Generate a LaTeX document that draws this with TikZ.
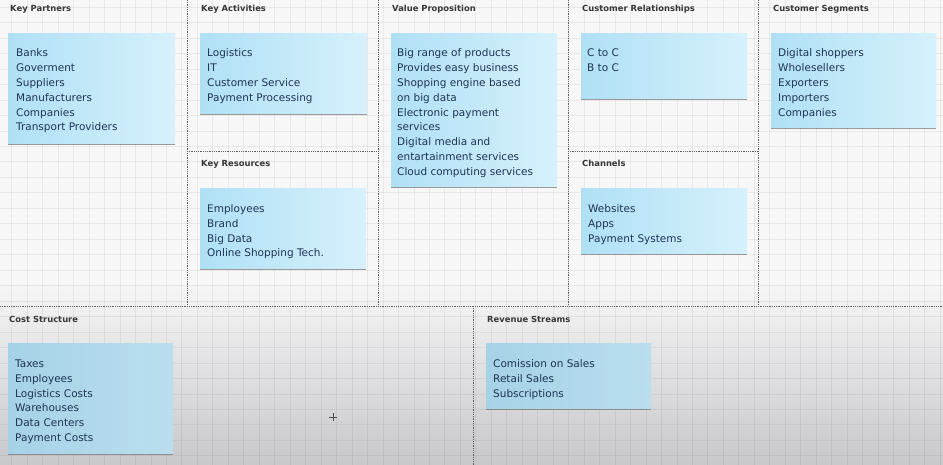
\documentclass[tikz,border=0pt]{standalone}
\usepackage{fontspec}
\setmainfont{DejaVu Sans}
\usetikzlibrary{shadows}
\definecolor{bgtop}{RGB}{247,247,247}
\definecolor{bgbot}{RGB}{200,200,204}
\definecolor{boxL}{RGB}{176,224,245}
\definecolor{boxR}{RGB}{214,241,252}
\definecolor{boxLd}{RGB}{166,210,231}
\definecolor{boxRd}{RGB}{186,222,238}
\definecolor{txtcol}{RGB}{30,52,84}
\definecolor{ttlcol}{RGB}{55,55,58}
\definecolor{divcol}{RGB}{95,95,100}
\tikzset{
  canvasbox/.style={draw=none, inner sep=0pt, anchor=north west, left color=boxL, right color=boxR,
     drop shadow={shadow xshift=0pt, shadow yshift=-2pt, fill=black!55, opacity=0.7}},
  darkbox/.style={canvasbox, left color=boxLd, right color=boxRd},
  itemtext/.style={inner sep=0pt, anchor=base west, align=left, text=txtcol,
     font=\fontsize{10.5}{14.8}\selectfont},
  paneltitle/.style={inner sep=0pt, anchor=base west, text=ttlcol,
     font=\bfseries\fontsize{8.4}{10}\selectfont},
  divider/.style={draw=divcol, line width=0.9pt, dash pattern=on 0.9pt off 0.9pt},
  gridline/.style={draw=black, opacity=0.055, line width=0.8pt}
}
\begin{document}
\begin{tikzpicture}[x=1pt,y=-1pt]
\useasboundingbox (0,0) rectangle (943,465);
% background
\fill[bgtop] (0,0) rectangle (943,280);
\shade[top color=bgtop, bottom color=bgbot] (0,280) rectangle (943,465);
% grid
\foreach \i in {0,...,60} {
  \draw[gridline] ({11.7+15.47*\i},0) -- ({11.7+15.47*\i},465);
}
\foreach \j in {0,...,30} {
  \draw[gridline] (0,{7.2+15.47*\j}) -- (943,{7.2+15.47*\j});
}
% dividers
\draw[divider] (187,0) -- (187,306);
\draw[divider] (378,0) -- (378,306);
\draw[divider] (568,0) -- (568,306);
\draw[divider] (758,0) -- (758,306);
\draw[divider] (187,151) -- (378,151);
\draw[divider] (568,151) -- (758,151);
\draw[divider] (0,306) -- (943,306);
\draw[divider] (473,306) -- (473,465);

% titles
\node[paneltitle] (tkp) at (10,12) {Key Partners};
\node[paneltitle] (tka) at (201,12) {Key Activities};
\node[paneltitle] (tvp) at (392,12) {Value Proposition};
\node[paneltitle] (tcr) at (582,12) {Customer Relationships};
\node[paneltitle] (tcs) at (773,12) {Customer Segments};
\node[paneltitle] (tkr) at (201,167) {Key Resources};
\node[paneltitle] (tch) at (582,167) {Channels};
\node[paneltitle] (tcost) at (9,322.5) {Cost Structure};
\node[paneltitle] (trev) at (487,322.5) {Revenue Streams};

% boxes
\node[canvasbox, minimum width=167, minimum height=110] (bkp) at (8,33) {};
\node[canvasbox, minimum width=167, minimum height=80] (bka) at (200,33) {};
\node[canvasbox, minimum width=166, minimum height=153] (bvp) at (391,33) {};
\node[canvasbox, minimum width=166, minimum height=65] (bcr) at (581,33) {};
\node[canvasbox, minimum width=165, minimum height=94] (bcs) at (771,33) {};
\node[canvasbox, minimum width=166, minimum height=80] (bkr) at (200,188) {};
\node[canvasbox, minimum width=166, minimum height=65] (bch) at (581,188) {};
\node[darkbox, minimum width=165, minimum height=110] (bcost) at (8,343) {};
\node[darkbox, minimum width=165, minimum height=65] (brev) at (486,343) {};

% texts (anchor = baseline of the last line)
\node[itemtext] (xkp) at (16,131) {Banks\\Goverment\\Suppliers\\Manufacturers\\Companies\\Transport Providers};
\node[itemtext] (xka) at (207,101.4) {Logistics\\IT\\Customer Service\\Payment Processing};
\node[itemtext] (xvp) at (397,175.4) {Big range of products\\Provides easy business\\Shopping engine based\\on big data\\Electronic payment\\services\\Digital media and\\entartainment services\\Cloud computing services};
\node[itemtext] (xcr) at (587,71.8) {C to C\\B to C};
\node[itemtext] (xcs) at (778,116.2) {Digital shoppers\\Wholesellers\\Exporters\\Importers\\Companies};
\node[itemtext] (xkr) at (207,256.9) {Employees\\Brand\\Big Data\\Online Shopping Tech.};
\node[itemtext] (xch) at (588,242.1) {Websites\\Apps\\Payment Systems};
\node[itemtext] (xcost) at (15,441.5) {Taxes\\Employees\\Logistics Costs\\Warehouses\\Data Centers\\Payment Costs};
\node[itemtext] (xrev) at (493,397.1) {Comission on Sales\\Retail Sales\\Subscriptions};

% cursor
\draw[black!70, line width=0.7pt] (329,417) -- (337,417) (333,413) -- (333,421);
\end{tikzpicture}
\end{document}
